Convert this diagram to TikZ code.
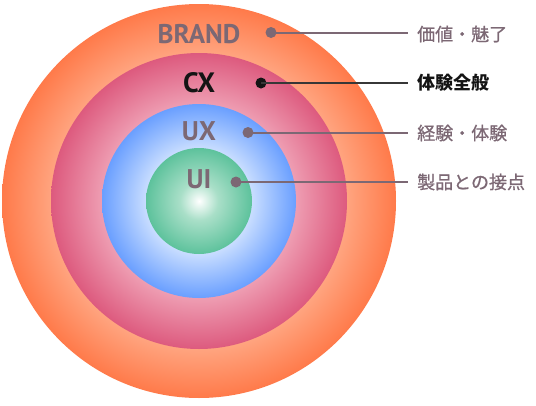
\documentclass[tikz,border=0pt]{standalone}
\usepackage{fontspec}
\newfontfamily\latfont{PT Sans}
\newfontfamily\jpfont{Noto Sans CJK JP}
\newfontfamily\jpmed[FakeBold=0.8]{Noto Sans CJK JP}
\definecolor{oOut}{HTML}{FF7A4A}
\definecolor{oIn}{HTML}{FFA47F}
\definecolor{pOut}{HTML}{DD5A7E}
\definecolor{pIn}{HTML}{EE9DB2}
\definecolor{bOut}{HTML}{6A9FFF}
\definecolor{bIn}{HTML}{C8DDFF}
\definecolor{gOut}{HTML}{5DC29C}
\definecolor{gMid}{HTML}{A9DFC8}
\definecolor{txtgray}{HTML}{7C6874}
\definecolor{txtdark}{HTML}{141414}
\pgfdeclareradialshading{orangering}{\pgfpointorigin}{color(0bp)=(oIn); color(18.8bp)=(oIn); color(25bp)=(oOut); color(50bp)=(oOut)}
\pgfdeclareradialshading{pinkring}{\pgfpointorigin}{color(0bp)=(pIn); color(16.4bp)=(pIn); color(25bp)=(pOut); color(50bp)=(pOut)}
\pgfdeclareradialshading{bluering}{\pgfpointorigin}{color(0bp)=(bIn); color(13.7bp)=(bIn); color(25bp)=(bOut); color(50bp)=(bOut)}
\pgfdeclareradialshading{greenball}{\pgfpointorigin}{color(0bp)=(white); color(9bp)=(gMid); color(25bp)=(gOut); color(50bp)=(gOut)}
\tikzset{
  ringlabel/.style={font=\latfont\bfseries\fontsize{27}{27}\selectfont, text=txtgray, anchor=base, inner sep=0pt},
  dotmark/.style={circle, fill=txtgray, minimum size=11pt, inner sep=0pt},
  leader/.style={draw=txtgray, line width=2pt},
  jplabel/.style={font=\jpmed\fontsize{18}{18}\selectfont, text=txtgray, anchor=west, inner sep=0pt}
}
\begin{document}
\begin{tikzpicture}[x=1pt,y=-1pt]
\useasboundingbox (0,0) rectangle (536,405);
\coordinate (c) at (199,201);
\shade[shading=orangering] (c) circle (197pt);
\shade[shading=pinkring] (c) circle (148pt);
\shade[shading=bluering] (c) circle (97pt);
\shade[shading=greenball] (c) circle (53pt);

\node[ringlabel] (brand) at (199,43) {BRAND};
\node[ringlabel, text=txtdark, font=\latfont\bfseries\fontsize{28}{28}\selectfont] (cx) at (199,92) {CX};
\node[ringlabel] (ux) at (199,140) {UX};
\node[ringlabel] (ui) at (199,188) {UI};

\node[dotmark] (d1) at (271,32.5) {};
\node[dotmark, fill=txtdark] (d2) at (261,83) {};
\node[dotmark] (d3) at (248,132.5) {};
\node[dotmark] (d4) at (236,182) {};

\coordinate (e1) at (408,32.5);
\coordinate (e2) at (408,83);
\coordinate (e3) at (408,132.5);
\coordinate (e4) at (408,182);

\draw[leader] (d1.center) -- (e1);
\draw[leader, draw=txtdark!85] (d2.center) -- (e2);
\draw[leader] (d3.center) -- (e3);
\draw[leader] (d4.center) -- (e4);

\node[jplabel] (t1) at (417,34) {価値・魅了};
\node[jplabel, text=txtdark, font=\jpfont\bfseries\fontsize{18}{18}\selectfont] (t2) at (417,83) {体験全般};
\node[jplabel] (t3) at (417,133) {経験・体験};
\node[jplabel] (t4) at (417,182) {製品との接点};
\end{tikzpicture}
\end{document}
